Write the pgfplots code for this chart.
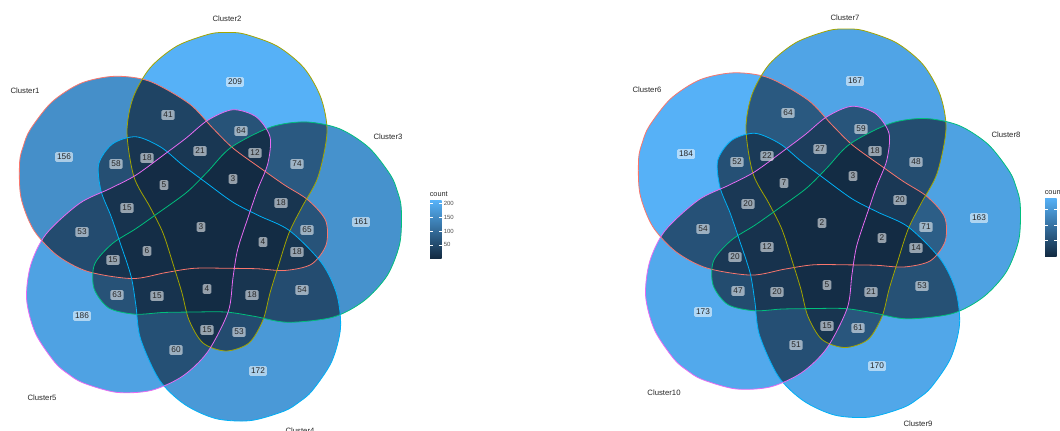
\documentclass[border=0pt]{standalone}
\usepackage{pgfplots}
\pgfplotsset{compat=1.18}
\usepackage{pgfplotstable}
\usepackage{fontspec}
\setmainfont{Liberation Sans}
\definecolor{vlo}{HTML}{132B43}
\definecolor{vhi}{HTML}{56B1F7}
\definecolor{e1}{HTML}{F8766D}
\definecolor{e2}{HTML}{A3A500}
\definecolor{e3}{HTML}{00BF7D}
\definecolor{e4}{HTML}{00B0F6}
\definecolor{e5}{HTML}{E76BF3}
\newcommand\mk[2]{\colorlet{#1}{vhi!#2!vlo}}
% left diagram (Cluster1..5), counts 3..209
\mk{L1}{74.3}\mk{L2}{100}\mk{L3}{76.7}\mk{L4}{82}\mk{L5}{88.8}
\mk{L12}{18.4}\mk{L23}{34.5}\mk{L34}{24.8}\mk{L45}{27.7}\mk{L15}{24.3}\mk{L25}{29.6}\mk{L13}{30.1}\mk{L24}{24.3}\mk{L35}{29.1}\mk{L14}{26.7}
\mk{L125}{8.7}\mk{L123}{7.3}\mk{L234}{7.3}\mk{L345}{5.8}\mk{L145}{5.8}\mk{L235}{4.4}\mk{L134}{7.3}\mk{L245}{5.8}\mk{L135}{5.8}\mk{L124}{7.3}
\mk{L1235}{0}\mk{L1234}{0.5}\mk{L2345}{0.5}\mk{L1345}{1.5}\mk{L1245}{1}
\mk{L12345}{0}
% right diagram (Cluster6..10), counts 2..184
\mk{R1}{100}\mk{R2}{90.7}\mk{R3}{88.5}\mk{R4}{92.3}\mk{R5}{94}
\mk{R12}{34.1}\mk{R23}{25.3}\mk{R34}{28}\mk{R45}{26.9}\mk{R15}{28.6}\mk{R25}{31.3}\mk{R13}{37.9}\mk{R24}{32.4}\mk{R35}{24.7}\mk{R14}{27.5}
\mk{R125}{13.7}\mk{R123}{9.9}\mk{R234}{10.4}\mk{R345}{9.9}\mk{R145}{9.9}\mk{R235}{8.8}\mk{R134}{6.6}\mk{R245}{7.1}\mk{R135}{9.9}\mk{R124}{11}
\mk{R1235}{0.5}\mk{R1234}{0}\mk{R2345}{1.6}\mk{R1345}{5.5}\mk{R1245}{2.7}
\mk{R12345}{0}

\newcommand\eggpath{plot[smooth cycle] coordinates {(axis cs:327,297.5) (axis cs:321,332) (axis cs:304,362) (axis cs:277,384) (axis cs:244.4,396) (axis cs:227,397.5) (axis cs:209.6,396) (axis cs:177,384) (axis cs:150,362) (axis cs:133,332) (axis cs:127,297.5) (axis cs:134,253) (axis cs:150,223) (axis cs:163,197) (axis cs:174,163) (axis cs:182,137) (axis cs:189,110) (axis cs:203,87) (axis cs:226,79) (axis cs:249,87) (axis cs:263,110) (axis cs:270,137) (axis cs:278,163) (axis cs:289,197) (axis cs:302,223) (axis cs:318,253)}}
\newcommand\cl[1]{\clip[rotate around={#1:(axis cs:203,201)}] \eggpath;}
\newcommand\fl[2]{\fill[#2,rotate around={#1:(axis cs:203,201)}] \eggpath;}
\newcommand\dr[2]{\draw[#2,line width=0.6pt,rotate around={#1:(axis cs:203,201)}] \eggpath;}
\newcommand\drawvenn[1]{%
\fl{72}{#11}\fl{0}{#12}\fl{-72}{#13}\fl{-144}{#14}\fl{144}{#15}%
\begin{scope}\cl{72}\fl{0}{#112}\end{scope}
\begin{scope}\cl{72}\fl{-72}{#113}\end{scope}
\begin{scope}\cl{72}\fl{-144}{#114}\end{scope}
\begin{scope}\cl{72}\fl{144}{#115}\end{scope}
\begin{scope}\cl{0}\fl{-72}{#123}\end{scope}
\begin{scope}\cl{0}\fl{-144}{#124}\end{scope}
\begin{scope}\cl{0}\fl{144}{#125}\end{scope}
\begin{scope}\cl{-72}\fl{-144}{#134}\end{scope}
\begin{scope}\cl{-72}\fl{144}{#135}\end{scope}
\begin{scope}\cl{-144}\fl{144}{#145}\end{scope}
\begin{scope}\cl{72}\cl{0}\fl{-72}{#1123}\end{scope}
\begin{scope}\cl{72}\cl{0}\fl{-144}{#1124}\end{scope}
\begin{scope}\cl{72}\cl{0}\fl{144}{#1125}\end{scope}
\begin{scope}\cl{72}\cl{-72}\fl{-144}{#1134}\end{scope}
\begin{scope}\cl{72}\cl{-72}\fl{144}{#1135}\end{scope}
\begin{scope}\cl{72}\cl{-144}\fl{144}{#1145}\end{scope}
\begin{scope}\cl{0}\cl{-72}\fl{-144}{#1234}\end{scope}
\begin{scope}\cl{0}\cl{-72}\fl{144}{#1235}\end{scope}
\begin{scope}\cl{0}\cl{-144}\fl{144}{#1245}\end{scope}
\begin{scope}\cl{-72}\cl{-144}\fl{144}{#1345}\end{scope}
\begin{scope}\cl{72}\cl{0}\cl{-72}\fl{-144}{#11234}\end{scope}
\begin{scope}\cl{72}\cl{0}\cl{-72}\fl{144}{#11235}\end{scope}
\begin{scope}\cl{72}\cl{0}\cl{-144}\fl{144}{#11245}\end{scope}
\begin{scope}\cl{72}\cl{-72}\cl{-144}\fl{144}{#11345}\end{scope}
\begin{scope}\cl{0}\cl{-72}\cl{-144}\fl{144}{#12345}\end{scope}
\begin{scope}\cl{72}\cl{0}\cl{-72}\cl{-144}\fl{144}{#112345}\end{scope}
\dr{72}{e1}\dr{0}{e2}\dr{-72}{e3}\dr{-144}{e4}\dr{144}{e5}%
}

\pgfplotstableread{
x y lab
64 273 156
235 348 209
361 208 161
258 59 172
82 114 186
168 315 41
241 299 64
200 279 21
255 277 12
297 266 74
116 266 58
147 272 18
164 245 5
233 251 3
281 227 18
127 222 15
82 198 53
201 203 3
307 200 65
263 188 4
297 178 18
113 170 15
147 179 6
117 135 63
157 134 15
207 141 4
252 135 18
302 140 54
207 100 15
239 98 53
176 80 60
}\leftlab

\pgfplotstableread{
x y lab
686 276 184
855 349 167
979 212 163
877 64 170
703 118 173
788 317 64
861 301 59
820 281 27
875 279 18
916 268 48
737 268 52
767 274 22
784 247 7
853 254 3
900 230 20
748 226 20
703 201 54
822 207 2
926 203 71
882 192 2
916 182 14
735 173 20
767 183 12
738 139 47
777 138 20
827 145 5
871 138 21
922 144 53
827 104 15
858 102 61
796 85 51
}\rightlab

\begin{document}
\begin{tikzpicture}
\begin{axis}[x=0.75pt,y=0.75pt,xmin=0,xmax=1060,ymin=0,ymax=430,hide axis,clip=true,
  lab/.style={only marks, mark=none, nodes near coords, point meta=explicit symbolic,
    every node near coord/.append style={anchor=center, font=\fontsize{6.2}{6.5}\selectfont,
      fill=white, fill opacity=0.55, text opacity=1, text=black!85, rounded corners=1pt, inner sep=1.5pt}}]
\pgfplotsextra{%
  \drawvenn{L}
  \begin{scope}[xshift=464.25pt,yshift=2.6pt]\drawvenn{R}\end{scope}
  % colorbar left
  \shade[bottom color=vlo, top color=vhi] (axis cs:430,172) rectangle (axis cs:441.7,229.3);
  \foreach \yy in {226.8,212.9,199,185.1}{
    \draw[white,line width=0.4pt] (axis cs:430,\yy) -- (axis cs:432.5,\yy);
    \draw[white,line width=0.4pt] (axis cs:439.2,\yy) -- (axis cs:441.7,\yy);}
  \node[anchor=west,inner sep=0,font=\fontsize{4.5}{5}\selectfont,text=black!70] at (axis cs:443.5,226.8) {200};
  \node[anchor=west,inner sep=0,font=\fontsize{4.5}{5}\selectfont,text=black!70] at (axis cs:443.5,212.9) {150};
  \node[anchor=west,inner sep=0,font=\fontsize{4.5}{5}\selectfont,text=black!70] at (axis cs:443.5,199) {100};
  \node[anchor=west,inner sep=0,font=\fontsize{4.5}{5}\selectfont,text=black!70] at (axis cs:443.5,185.1) {50};
  \node[anchor=west,inner sep=0,font=\fontsize{5.5}{6}\selectfont,text=black!85] at (axis cs:429.5,236) {count};
  % colorbar right (cut by the right edge, as in the reference)
  \shade[bottom color=vlo, top color=vhi] (axis cs:1045,174) rectangle (axis cs:1056.7,232);
  \foreach \yy in {189.3,205.2,221.2}{
    \draw[white,line width=0.4pt] (axis cs:1045,\yy) -- (axis cs:1047.5,\yy);
    \draw[white,line width=0.4pt] (axis cs:1054.2,\yy) -- (axis cs:1056.7,\yy);}
  \node[anchor=west,inner sep=0,font=\fontsize{5.5}{6}\selectfont,text=black!85] at (axis cs:1044.5,238) {count};
}
\addplot[lab] table[x=x,y=y,meta=lab]{\leftlab};
\addplot[lab] table[x=x,y=y,meta=lab]{\rightlab};
\begin{scope}[every node/.style={font=\fontsize{5.8}{7}\selectfont,text=black!85}]
\node at (axis cs:25,339) {Cluster1};
\node at (axis cs:227,411) {Cluster2};
\node at (axis cs:388,293) {Cluster3};
\node at (axis cs:300,-1) {Cluster4};
\node at (axis cs:42,32) {Cluster5};
\node at (axis cs:647,340) {Cluster6};
\node at (axis cs:845,412) {Cluster7};
\node at (axis cs:1006,295) {Cluster8};
\node at (axis cs:918,6) {Cluster9};
\node at (axis cs:664,37) {Cluster10};
\end{scope}
\end{axis}
\pgfresetboundingbox
\path[use as bounding box] (current axis.south west) rectangle (current axis.north east);
\end{tikzpicture}
\end{document}
